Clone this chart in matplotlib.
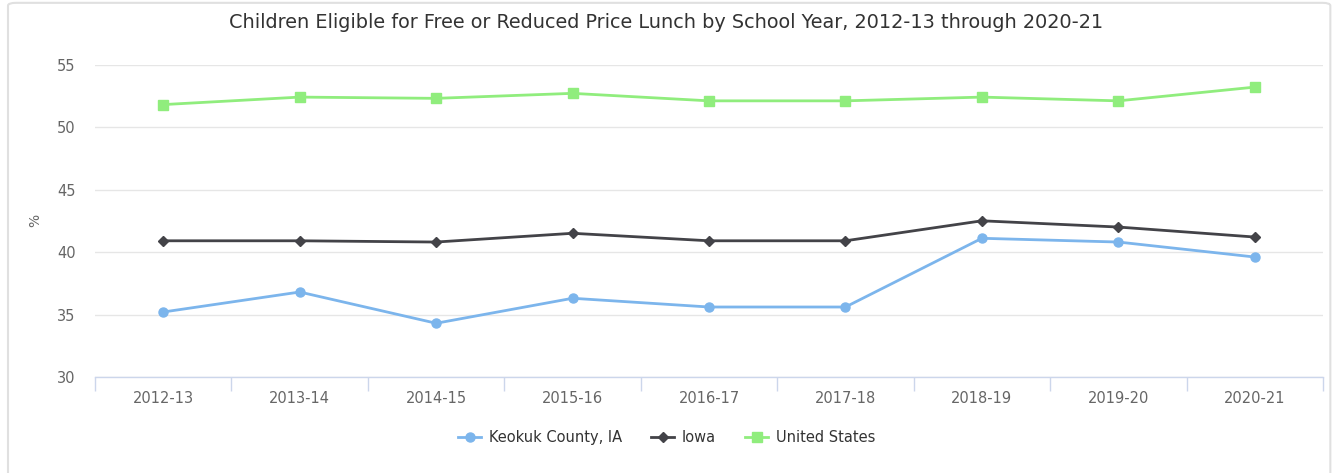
import matplotlib.pyplot as plt
import numpy as np
from matplotlib.patches import FancyBboxPatch

# school years and percentages of children eligible
years = ["2012-13", "2013-14", "2014-15", "2015-16", "2016-17",
         "2017-18", "2018-19", "2019-20", "2020-21"]
keokuk = [35.2, 36.8, 34.3, 36.3, 35.6, 35.6, 41.1, 40.8, 39.6]
iowa = [40.9, 40.9, 40.8, 41.5, 40.9, 40.9, 42.5, 42.0, 41.2]
united_states = [51.8, 52.4, 52.3, 52.7, 52.1, 52.1, 52.4, 52.1, 53.2]

plt.rcParams["font.family"] = "DejaVu Sans"

fig = plt.figure(figsize=(13.33, 4.73), dpi=100)

# rounded light frame around the chart (runs off the bottom edge)
frame = FancyBboxPatch((0.006, -0.05), 0.992, 1.044,
                       boxstyle="round,pad=0,rounding_size=0.006",
                       transform=fig.transFigure, facecolor="white",
                       edgecolor="#e0e0e0", linewidth=1.5, zorder=-1)
fig.patches.append(frame)

ax = fig.add_axes([0.0713, 0.203, 0.9212, 0.6604])
x = np.arange(len(years))

ax.plot(x, keokuk, color="#7cb5ec", lw=2.0, marker="o", ms=6.5,
        label="Keokuk County, IA", zorder=3)
ax.plot(x, iowa, color="#434348", lw=2.0, marker="D", ms=5,
        label="Iowa", zorder=3)
ax.plot(x, united_states, color="#90ed7d", lw=2.0, marker="s", ms=7,
        label="United States", zorder=3)

ax.set_xlim(-0.5, len(years) - 0.5)
ax.set_ylim(30, 55)
ax.set_yticks([30, 35, 40, 45, 50, 55])
ax.set_xticks(x)
ax.set_xticklabels(years)
ax.set_xticks(np.arange(-0.5, len(years)), minor=True)

ax.grid(axis="y", color="#e6e6e6", lw=1)
ax.set_axisbelow(True)
for s in ["top", "right", "left"]:
    ax.spines[s].set_visible(False)
ax.spines["bottom"].set_color("#ccd6eb")
ax.spines["bottom"].set_linewidth(1)

ax.tick_params(axis="x", which="major", length=0, pad=10,
               labelsize=10.5, labelcolor="#666666")
ax.tick_params(axis="x", which="minor", length=10, width=1, color="#ccd6eb")
ax.tick_params(axis="y", length=0, pad=14, labelsize=10.5,
               labelcolor="#666666")

ax.set_ylabel("%", color="#666666", fontsize=10)
ax.yaxis.set_label_coords(-0.043, 0.5)

fig.text(0.5, 0.953,
         "Children Eligible for Free or Reduced Price Lunch by School Year, 2012-13 through 2020-21",
         ha="center", va="center", fontsize=13.9, color="#333333")

fig.legend(loc="center", bbox_to_anchor=(0.5, 0.074), ncol=3, frameon=False,
           fontsize=10.5, labelcolor="#333333", handlelength=1.6,
           columnspacing=2.0, handletextpad=0.5)

fig.savefig("out.png", dpi=100)
